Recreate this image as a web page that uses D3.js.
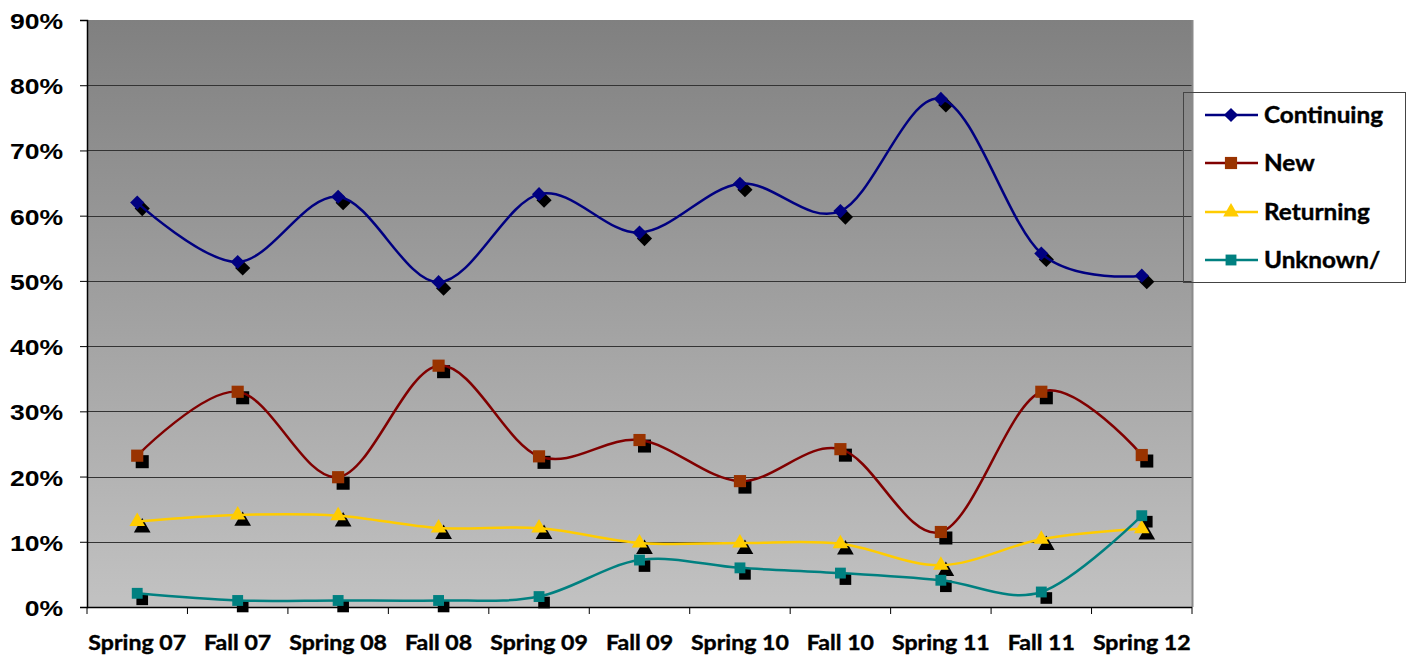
<!DOCTYPE html>
<html>
<head>
<meta charset="utf-8">
<script src="https://cdn.jsdelivr.net/npm/d3@7"></script>
<style>
  html, body { margin: 0; padding: 0; background: #fff; }
  svg { display: block; }
</style>
</head>
<body>
<svg id="chart" width="1410" height="657"></svg>
<script>
const categories = ["Spring 07","Fall 07","Spring 08","Fall 08","Spring 09","Fall 09","Spring 10","Fall 10","Spring 11","Fall 11","Spring 12"];
const continuing = [62.0, 52.9, 62.9, 49.8, 63.3, 57.4, 64.9, 60.7, 77.9, 54.2, 50.8];
const newStudents = [23.2, 33.0, 19.9, 37.0, 23.1, 25.6, 19.3, 24.2, 11.5, 33.0, 23.3];
const returning = [13.1, 14.1, 14.0, 12.1, 12.1, 9.8, 9.8, 9.7, 6.4, 10.4, 12.0];
const unknown = [2.1, 1.0, 1.0, 1.0, 1.6, 7.2, 6.0, 5.2, 4.1, 2.3, 14.0];
const yTicks = [0, 10, 20, 30, 40, 50, 60, 70, 80, 90];
const seriesNames = ["Continuing", "New", "Returning", "Unknown/"];

const series = [
  {name: seriesNames[0], values: continuing, line: "#000080", fill: "#000080", shape: d3.symbolSquare, rot: 45, size: 100},
  {name: seriesNames[1], values: newStudents, line: "#800000", fill: "#993300", shape: d3.symbolSquare, rot: 0, size: 148},
  {name: seriesNames[2], values: returning, line: "#FFCC00", fill: "#FFCC00", shape: d3.symbolTriangle, rot: 0, size: 105},
  {name: seriesNames[3], values: unknown, line: "#008080", fill: "#008080", shape: d3.symbolSquare, rot: 0, size: 118}
];

const svg = d3.select("#chart");
const pLeft = 87, pRight = 1192, pTop = 20, pBottom = 607;

const x = d3.scaleBand().domain(categories).range([pLeft, pRight]);
const y = d3.scaleLinear().domain([0, 90]).range([pBottom, pTop]);

// background gradient
const defs = svg.append("defs");
const grad = defs.append("linearGradient").attr("id", "bg").attr("x1", 0).attr("y1", 0).attr("x2", 0).attr("y2", 1);
grad.append("stop").attr("offset", "0%").attr("stop-color", "#808080");
grad.append("stop").attr("offset", "100%").attr("stop-color", "#c2c2c2");

svg.append("rect").attr("x", pLeft).attr("y", pTop).attr("width", pRight - pLeft).attr("height", pBottom - pTop).attr("fill", "url(#bg)");

// gridlines
svg.append("g").selectAll("line").data(yTicks.filter(t => t > 0 && t < 90)).join("line")
  .attr("x1", pLeft).attr("x2", pRight)
  .attr("y1", d => Math.round(y(d)) + 0.5).attr("y2", d => Math.round(y(d)) + 0.5)
  .attr("stroke", "#333").attr("stroke-width", 1);

// right border
svg.append("line").attr("x1", pRight + 0.5).attr("x2", pRight + 0.5).attr("y1", pTop).attr("y2", pBottom)
  .attr("stroke", "#8a8a8a").attr("stroke-width", 2);

// y axis
const yAxis = d3.axisLeft(y).tickValues(yTicks).tickSize(7).tickFormat(d => d + "%");
const gy = svg.append("g").attr("transform", `translate(${pLeft},0)`).call(yAxis);
gy.select(".domain").attr("stroke", "#000").attr("stroke-width", 1.5);
gy.selectAll(".tick line").attr("stroke", "#000").attr("stroke-width", 1);
gy.selectAll(".tick text").remove();
gy.selectAll(".tick").append("g").attr("transform", "translate(-24,8.5) scale(1.18,1)")
  .append("text")
  .attr("text-anchor", "end")
  .attr("font-family", "'Liberation Sans', Arial, sans-serif")
  .attr("font-weight", "bold").attr("font-size", 22.5).attr("fill", "#000")
  .text(d => d + "%");

function widen(sel, factor) {
  sel.each(function() {
    const w = this.getComputedTextLength();
    d3.select(this).attr("textLength", w * factor).attr("lengthAdjust", "spacingAndGlyphs");
  });
}

// x axis
const boundaries = categories.map(c => x(c)).concat([pRight]);
const gx = svg.append("g");
gx.append("line").attr("x1", pLeft).attr("x2", pRight).attr("y1", pBottom + 0.5).attr("y2", pBottom + 0.5).attr("stroke", "#000").attr("stroke-width", 1.5);
gx.selectAll("line.tk").data(boundaries).join("line").attr("class", "tk")
  .attr("x1", d => d).attr("x2", d => d).attr("y1", pBottom).attr("y2", pBottom + 7)
  .attr("stroke", "#000").attr("stroke-width", 1);
const xl = gx.selectAll("text").data(categories).join("text")
  .attr("x", d => x(d) + x.bandwidth() / 2).attr("y", 650)
  .attr("text-anchor", "middle")
  .attr("font-family", "Lato, 'Open Sans', sans-serif").attr("font-weight", "bold").attr("font-size", 21)
  .attr("stroke", "#000").attr("stroke-width", 0.4)
  .attr("fill", "#000").text(d => d);
widen(xl, 1.1);

const cx = (d, i) => x(categories[i]) + x.bandwidth() / 2;
const line = d3.line().x(cx).y(d => y(d)).curve(d3.curveCatmullRom.alpha(0));

// shadows
series.forEach(s => {
  svg.append("g").selectAll("path").data(s.values).join("path")
    .attr("d", d3.symbol().type(s.shape).size(s.size * 1.15))
    .attr("transform", (d, i) => `translate(${cx(d, i) + 5},${y(d) + 6}) rotate(${s.rot})`)
    .attr("fill", "#000");
});
// lines
series.forEach(s => {
  svg.append("path").datum(s.values).attr("d", line)
    .attr("fill", "none").attr("stroke", s.line).attr("stroke-width", 2.5);
});
// markers
series.forEach(s => {
  svg.append("g").selectAll("path").data(s.values).join("path")
    .attr("d", d3.symbol().type(s.shape).size(s.size))
    .attr("transform", (d, i) => `translate(${cx(d, i)},${y(d)}) rotate(${s.rot})`)
    .attr("fill", s.fill);
});

// legend
const lg = svg.append("g");
lg.append("rect").attr("x", 1183.5).attr("y", 92.5).attr("width", 222).attr("height", 190)
  .attr("fill", "none").attr("stroke", "#444").attr("stroke-width", 1);
const ly = [115, 163, 212, 260];
series.forEach((s, i) => {
  lg.append("line").attr("x1", 1205).attr("x2", 1258).attr("y1", ly[i]).attr("y2", ly[i])
    .attr("stroke", s.line).attr("stroke-width", 2.5);
  lg.append("path").attr("d", d3.symbol().type(s.shape).size(s.size))
    .attr("transform", `translate(1231,${ly[i]}) rotate(${s.rot})`).attr("fill", s.fill);
  const t = lg.append("text").attr("x", 1264).attr("y", ly[i] + 8)
    .attr("font-family", "Lato, 'Open Sans', sans-serif").attr("font-weight", "bold").attr("font-size", 22.5)
    .attr("stroke", "#000").attr("stroke-width", 0.4)
    .attr("fill", "#000").text(s.name);
  widen(t, 1.08);
});
</script>
</body>
</html>
